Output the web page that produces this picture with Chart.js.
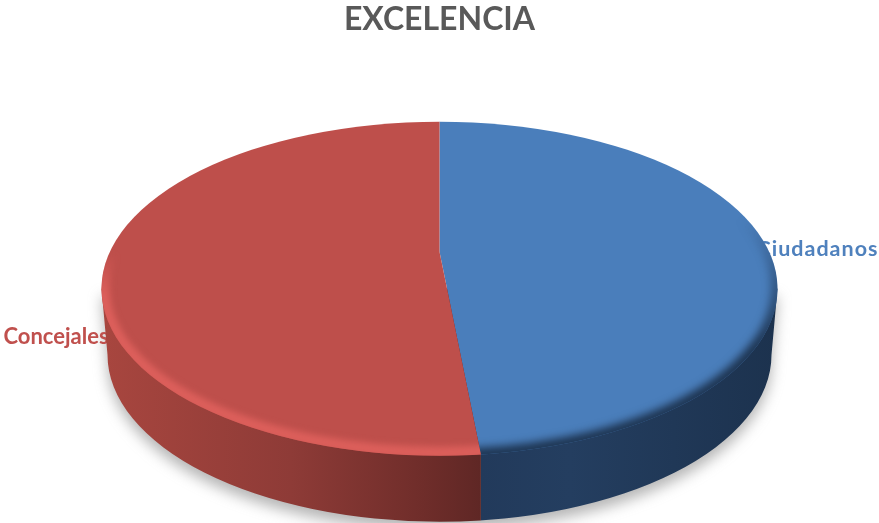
<!DOCTYPE html>
<html>
<head>
<meta charset="utf-8">
<script src="https://cdn.jsdelivr.net/npm/chart.js@4/dist/chart.umd.min.js"></script>
<style>
  html, body { margin: 0; padding: 0; background: #fff; }
  #wrap { width: 879px; height: 523px; position: relative; }
</style>
</head>
<body>
<div id="wrap"><canvas id="c"></canvas></div>
<script>
const titleText = 'EXCELENCIA';
const categories = ['Ciudadanos', 'Concejales'];
const shares = [48.4, 51.6];
const faceColors = ['#4a7ebb', '#be4f4b'];
const labelColors = ['#4f81bd', '#c0504d'];

// Disc proportions, relative to the point where the slices meet.
const disc = { rx: 338, ry: 167, dropY: 37, depth: 66, baseRx: 332 };
const tilt = disc.ry / disc.rx;

function faceEllipse(ctx, a) {
  ctx.beginPath();
  ctx.ellipse(a.x, a.y + disc.dropY, disc.rx, disc.ry, 0, 0, Math.PI * 2);
}

// Outline of the side wall: the face's widest chord joined to the lower rim.
function wallPath(ctx, a) {
  const cy = a.y + disc.dropY;
  ctx.beginPath();
  ctx.moveTo(a.x - disc.rx, cy);
  ctx.lineTo(a.x - disc.baseRx, cy + disc.depth);
  ctx.ellipse(a.x, cy + disc.depth, disc.baseRx, disc.ry, 0, Math.PI, 0, true);
  ctx.lineTo(a.x + disc.rx, cy);
  ctx.closePath();
}

function tiltedSpace(ctx, a) {
  ctx.translate(a.x, a.y);
  ctx.scale(1, tilt);
  ctx.translate(-a.x, -a.y);
}

function sectorClip(ctx, a, arc) {
  ctx.save();
  tiltedSpace(ctx, a);
  ctx.beginPath();
  ctx.moveTo(arc.x, arc.y);
  ctx.arc(arc.x, arc.y, arc.outerRadius, arc.startAngle, arc.endAngle);
  ctx.closePath();
  ctx.restore();
  ctx.clip();
}

const extrudedDisc = {
  id: 'extrudedDisc',
  beforeDatasetsDraw(chart) {
    const ctx = chart.ctx;
    const arcs = chart.getDatasetMeta(0).data;
    const a = arcs[0];
    const L = a.x - disc.rx, R = a.x + disc.rx;

    // Soft ground shadow
    ctx.save();
    ctx.filter = 'blur(7px)';
    ctx.fillStyle = 'rgba(120,120,120,0.55)';
    ctx.translate(0, 8);
    wallPath(ctx, a);
    ctx.fill();
    ctx.restore();

    // Slice names sit behind the disc
    ctx.save();
    ctx.textBaseline = 'alphabetic';
    ctx.textAlign = 'left';
    ctx.font = 'bold 21.5px Lato, sans-serif';
    ctx.letterSpacing = '1px';
    ctx.fillStyle = labelColors[0];
    ctx.fillText(categories[0], a.x + 317, a.y + 4);
    ctx.font = 'bold 22px Lato, sans-serif';
    ctx.letterSpacing = '0px';
    ctx.fillStyle = labelColors[1];
    ctx.fillText(categories[1], a.x - 436, a.y + 92);
    ctx.restore();

    // Side wall, one shaded part per slice
    const walls = [
      [[0, '#223a5b'], [0.3, '#243e60'], [1, '#1c324e']],
      [[0, '#a8463f'], [0.5, '#8e3b37'], [0.85, '#6f2d2a'], [1, '#5f2725']]
    ];
    const cutX = (() => {
      // Where the slice boundary meets the lower rim of the face
      const ang = arcs[1].startAngle;
      const dx = Math.cos(ang), dy = Math.sin(ang) * tilt;
      const oy = -disc.dropY;
      const A = dx * dx / (disc.rx * disc.rx) + dy * dy / (disc.ry * disc.ry);
      const B = 2 * oy * dy / (disc.ry * disc.ry);
      const C = oy * oy / (disc.ry * disc.ry) - 1;
      const t = (-B + Math.sqrt(B * B - 4 * A * C)) / (2 * A);
      return a.x + t * dx;
    })();
    [0, 1].forEach(i => {
      ctx.save();
      ctx.beginPath();
      if (i === 0) ctx.rect(cutX, 0, R - cutX + 2, chart.height);
      else ctx.rect(L - 2, 0, cutX - L + 2, chart.height);
      ctx.clip();
      const from = i === 0 ? cutX : L;
      const to = i === 0 ? R : cutX;
      const g = ctx.createLinearGradient(from, 0, to, 0);
      walls[i].forEach(s => g.addColorStop(s[0], s[1]));
      ctx.fillStyle = g;
      wallPath(ctx, a);
      ctx.fill();
      ctx.restore();
    });

    // The slices are drawn by the library inside the tilted, rim-clipped space
    ctx.save();
    faceEllipse(ctx, a);
    ctx.clip();
    tiltedSpace(ctx, a);
  },
  afterDatasetsDraw(chart) {
    const ctx = chart.ctx;
    ctx.restore();
    const arcs = chart.getDatasetMeta(0).data;
    const a = arcs[0];
    const cy = a.y + disc.dropY;

    // Dark soft edge on the blue slice
    ctx.save();
    faceEllipse(ctx, a);
    ctx.clip();
    sectorClip(ctx, a, arcs[0]);
    const gb = ctx.createLinearGradient(0, cy - 70, 0, cy + 60);
    gb.addColorStop(0, 'rgba(28,50,78,0)');
    gb.addColorStop(1, 'rgba(28,50,78,1)');
    ctx.strokeStyle = gb;
    ctx.lineWidth = 13;
    ctx.filter = 'blur(4px)';
    faceEllipse(ctx, a);
    ctx.stroke();
    ctx.restore();

    // Bright bevel on the red slice
    ctx.save();
    faceEllipse(ctx, a);
    ctx.clip();
    sectorClip(ctx, a, arcs[1]);
    const gr = ctx.createLinearGradient(0, cy - 35, 0, cy + 5);
    gr.addColorStop(0, 'rgba(222,96,92,0)');
    gr.addColorStop(1, 'rgba(222,96,92,0.95)');
    ctx.strokeStyle = gr;
    ctx.lineWidth = 12;
    ctx.filter = 'blur(3px)';
    ctx.beginPath();
    ctx.ellipse(a.x, cy - 1, disc.rx - 2, disc.ry - 2, 0, 0, Math.PI * 2);
    ctx.stroke();
    ctx.restore();
  }
};

new Chart(document.getElementById('c'), {
  type: 'pie',
  data: {
    labels: categories,
    datasets: [{
      data: shares,
      backgroundColor: faceColors,
      borderWidth: 0,
      radius: 900,
      clip: false
    }]
  },
  plugins: [extrudedDisc],
  options: {
    responsive: true,
    maintainAspectRatio: false,
    animation: false,
    events: [],
    layout: { padding: { bottom: 58 } },
    plugins: {
      legend: { display: false },
      tooltip: { enabled: false },
      title: {
        display: true,
        text: titleText,
        color: '#595959',
        font: { family: 'Lato, sans-serif', size: 32, weight: 'bold' },
        padding: { top: 0, bottom: 0 }
      }
    }
  }
});
</script>
</body>
</html>
